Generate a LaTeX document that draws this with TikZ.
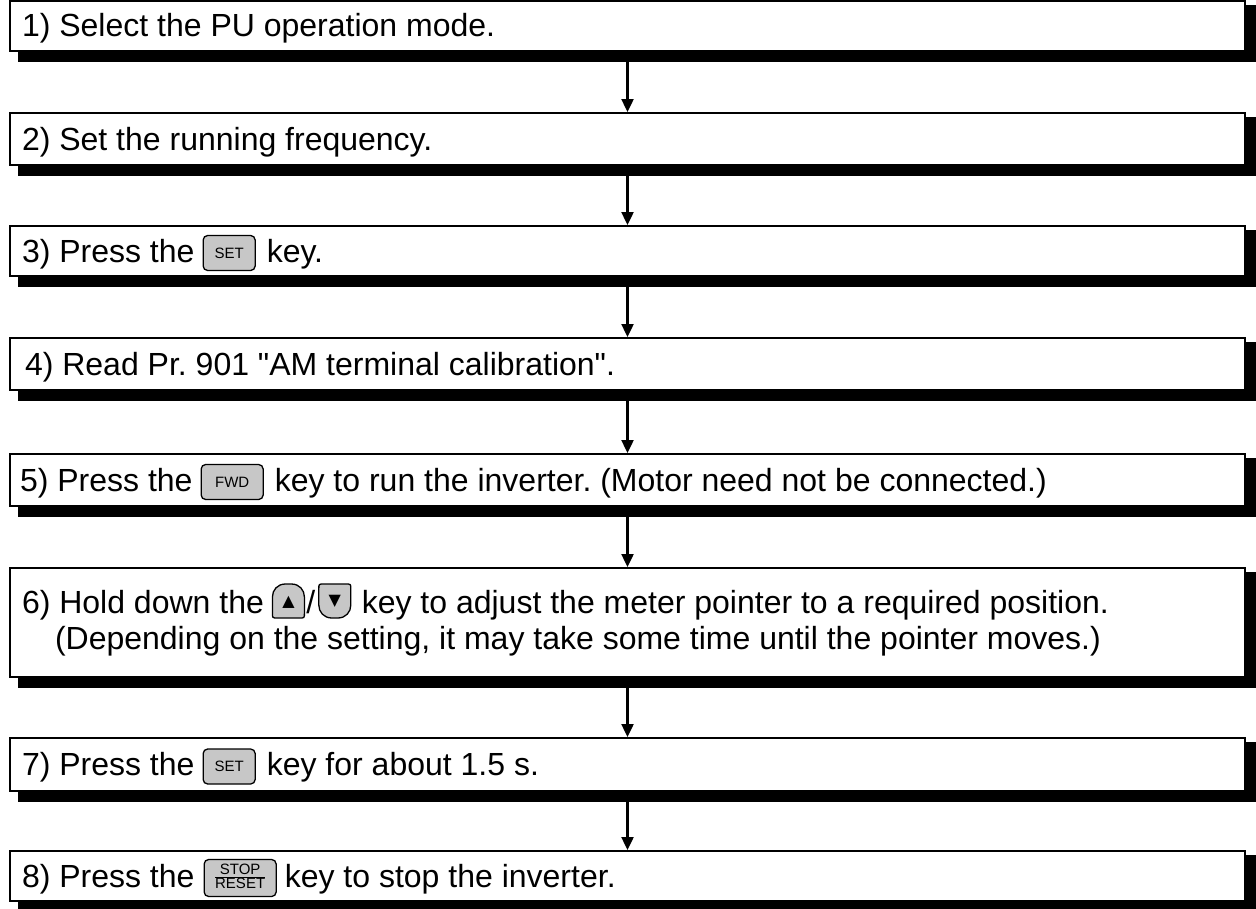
\documentclass[tikz,border=0pt]{standalone}
\usepackage{fontspec}
\setmainfont{Liberation Sans}[Ligatures=TeXOff]
\newfontfamily\symfont{DejaVu Sans}
\usetikzlibrary{arrows.meta,backgrounds}
\definecolor{keygray}{gray}{0.78}
\newcommand\mainsz{\fontsize{32}{38}\selectfont}
\newcommand\keysz{\fontsize{15}{15}\selectfont}
\newcommand\symsz{\symfont\fontsize{16}{16}\selectfont}
\frenchspacing
\begin{document}
\begin{tikzpicture}[x=1pt,y=-1pt,
  stepbox/.style={draw,line width=2.4pt,fill=white,minimum width=1234.6pt,inner sep=0pt,anchor=north west},
  txt/.style={anchor=base west,inner sep=0pt,outer sep=0pt,font=\mainsz},
  keybox/.style={draw,line width=1.3pt,fill=keygray,rounded corners=4.5pt,minimum height=35pt,inner sep=0pt,anchor=west,font=\keysz},
  keyline/.style={draw,line width=1.3pt,fill=keygray},
  flow/.style={line width=2.4pt,-{Triangle[length=13pt,width=12pt]}}]
\useasboundingbox (0,0) rectangle (1256,908);

% boxes
\node[stepbox,minimum height=49.6pt] (b1) at (9,0) {};
\node[stepbox,minimum height=51.6pt] (b2) at (9,112) {};
\node[stepbox,minimum height=49.6pt] (b3) at (9,225) {};
\node[stepbox,minimum height=51.6pt] (b4) at (9,337) {};
\node[stepbox,minimum height=51.6pt] (b5) at (9,453) {};
\node[stepbox,minimum height=108.6pt] (b6) at (9,567) {};
\node[stepbox,minimum height=52.6pt] (b7) at (9,737) {};
\node[stepbox,minimum height=49.6pt] (b8) at (9,850) {};

% shadows
\begin{scope}[on background layer]
\foreach \i in {1,...,8}
  \fill[black] ([shift={(9,5)}]b\i.north west) rectangle ([shift={(10,10)}]b\i.south east);
\end{scope}

% connectors
\foreach \i/\j in {1/2,2/3,3/4,4/5,5/6,6/7,7/8}
  \draw[flow] ([shift={(0,10)}]b\i.south) -- (b\j.north);

% 1, 2
\node[txt] (t1) at ([shift={(13,10)}]b1.west) {1) Select the PU operation mode.};
\node[txt] (t2) at ([shift={(13,11)}]b2.west) {2) Set the running frequency.};

% 3
\node[txt] (t3a) at ([shift={(13,11)}]b3.west) {3) Press the};
\node[keybox,minimum width=52pt,xshift=8pt,yshift=-2pt] (k3) at (t3a.east |- b3.center) {SET};
\node[txt,xshift=11pt] (t3b) at (k3.east |- t3a.base) {key.};

% 4
\node[txt] (t4) at ([shift={(16,11)}]b4.west) {4) Read Pr. 901 "AM terminal calibration".};

% 5
\node[txt] (t5a) at ([shift={(11,11)}]b5.west) {5) Press the};
\node[keybox,minimum width=62pt,xshift=8pt,yshift=-2pt] (k5) at (t5a.east |- b5.center) {FWD};
\node[txt,xshift=11pt] (t5b) at (k5.east |- t5a.base) {key to run the inverter. (Motor need not be connected.)};

% 6
\node[txt] (t6a) at ([shift={(13,46)}]b6.north west) {6) Hold down the};
\coordinate (c6u) at ([shift={(24.5,-12)}]t6a.base east);
\begin{scope}[shift={(c6u)}]
  \path[keyline] (-11,17) -- (11,17) .. controls (16,17) .. (16,12) -- (16,-4)
     .. controls (16,-11) and (11,-17) .. (3,-17) -- (-3,-17)
     .. controls (-11,-17) and (-16,-11) .. (-16,-4) -- (-16,12)
     .. controls (-16,17) .. (-11,17) -- cycle;
\end{scope}
\node[inner sep=0pt,font=\symsz] (k6u) at ([shift={(0,1)}]c6u) {▲};
\node[txt] (sl) at ([shift={(18,12)}]c6u) {/};
\coordinate (c6d) at ([shift={(19.5,-12)}]sl.base east);
\begin{scope}[shift={(c6d)}]
  \path[keyline] (-11,-17) -- (11,-17) .. controls (16,-17) .. (16,-12) -- (16,4)
     .. controls (16,11) and (11,17) .. (3,17) -- (-3,17)
     .. controls (-11,17) and (-16,11) .. (-16,4) -- (-16,-12)
     .. controls (-16,-17) .. (-11,-17) -- cycle;
\end{scope}
\node[inner sep=0pt,font=\symsz] (k6d) at (c6d) {▼};
\node[txt] (t6b) at ([shift={(27,12)}]c6d) {key to adjust the meter pointer to a required position.};
\node[txt] (t6c) at ([shift={(46,82)}]b6.north west) {(Depending on the setting, it may take some time until the pointer moves.)};

% 7
\node[txt] (t7a) at ([shift={(13,11)}]b7.west) {7) Press the};
\node[keybox,minimum width=52pt,xshift=8pt,yshift=-2pt] (k7) at (t7a.east |- b7.center) {SET};
\node[txt,xshift=11pt] (t7b) at (k7.east |- t7a.base) {key for about 1.5 s.};

% 8
\node[txt] (t8a) at ([shift={(13,11)}]b8.west) {8) Press the};
\node[keybox,minimum width=72pt,minimum height=37pt,xshift=9pt,yshift=-2pt] (k8) at (t8a.east |- b8.center)
  {\setlength{\arrayrulewidth}{0.9pt}\renewcommand\arraystretch{0.78}\begin{tabular}{@{}c@{}}STOP\\[-1pt]\hline RESET\end{tabular}};
\node[txt,xshift=8pt] (t8b) at (k8.east |- t8a.base) {key to stop the inverter.};
\end{tikzpicture}
\end{document}
